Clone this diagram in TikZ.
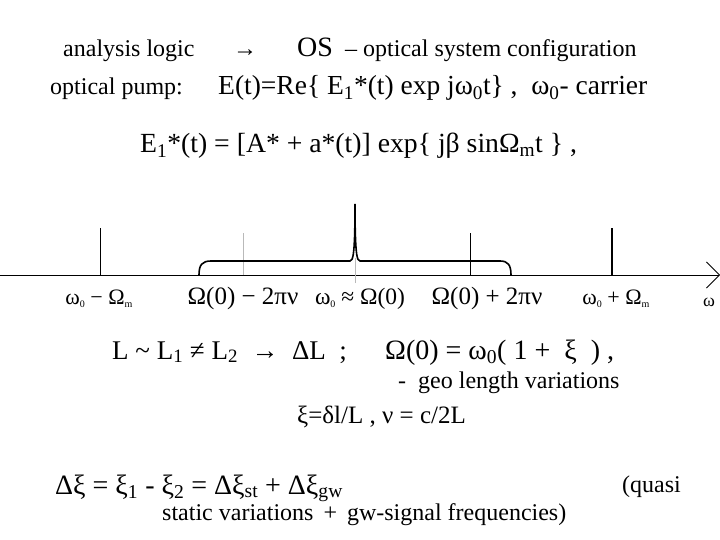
\documentclass[tikz,border=0pt]{standalone}
\usepackage{fontspec}
\setmainfont{Liberation Serif}
\usetikzlibrary{arrows.meta}
\newcommand{\lo}[1]{\textsubscript{#1}}
\newcommand{\smlo}[1]{\raisebox{-0.15em}{\fontsize{10}{12}\selectfont #1}}

\begin{document}
\begin{tikzpicture}
  [
    x=1pt, y=-1pt,
    txt/.style={anchor=base west, inner sep=0pt, font=\fontsize{24}{28}\selectfont},
    big/.style={txt, font=\fontsize{27}{31}\selectfont},
    lbl/.style={anchor=base, inner sep=0pt, font=\fontsize{22}{26}\selectfont},
    tick/.style={line width=0.8pt},
    faint/.style={tick, gray!55},
    brace/.style={line width=1.6pt},
  ]
  \useasboundingbox (0,0) rectangle (720,540);
  % header
  \node [txt] (logic) at (63,57) {analysis logic};
  \node [txt] (goes) at (233,57) {→};
  \node [txt, font=\fontsize{28}{32}\selectfont] (os) at (297,57) {OS};
  \node [txt] (osname) at (345,57) {– optical system configuration};
  \node [txt] (pump) at (50,95) {optical pump:};
  \node [big, font=\fontsize{27.5}{32}\selectfont] (field) at (218,95) {E(t)=Re\{ E\lo{1}*(t) exp jω\lo{0}t\} ,\enspace ω\lo{0}- carrier};
  \node [big, font=\fontsize{27.7}{32}\selectfont] (envelope) at (140,153) {E\lo{1}*(t) = [A* + a*(t)] exp\{ jβ sinΩ\lo{m}t \} ,};
  % spectrum axis
  \coordinate (axl) at (0,275);
  \coordinate (axr) at (720,275);
  \draw [line width=0.8pt, -{Straight Barb[length=13pt, width=26pt, line width=0.8pt]}] (axl) -- (axr);
  \coordinate (sbl) at (100,275);
  \coordinate (cml) at (243,275);
  \coordinate (ctr) at (355,283);
  \coordinate (cmr) at (470,275);
  \coordinate (sbr) at (612,275);
  \draw [tick] (sbl) -- ++(0,-47);
  \draw [faint] (cml) -- ++(0,-42);
  \draw [faint] (ctr) -- ++(0,-25);
  \draw [tick] (cmr) -- ++(0,-42);
  \draw [tick, line width=1.2pt] (sbr) -- ++(0,-47);
  \draw [brace] (199,275) .. controls (199,265) and (202,261) .. (211,261) -- (350,261)
    .. controls (353,261) and (355,255) .. (355,204)
    .. controls (355,255) and (357,261) .. (360,261) -- (500,261)
    .. controls (508,261) and (511,265) .. (511,275);
  \node [lbl] (lsb) at (99,304) {ω\smlo{0} − Ω\smlo{m}};
  \node [lbl, font=\fontsize{25}{29}\selectfont] (lmode) at (243,304) {Ω(0) − 2πν};
  \node [lbl, font=\fontsize{23.5}{28}\selectfont] (lctr) at (360,304) {ω\smlo{0} ≈ Ω(0)};
  \node [lbl, font=\fontsize{25}{29}\selectfont] (rmode) at (487,304) {Ω(0) + 2πν};
  \node [lbl] (rsb) at (616,304) {ω\smlo{0} + Ω\smlo{m}};
  \node [lbl, font=\fontsize{18}{21}\selectfont] (omega) at (709,306) {ω};
  % lengths
  \node [big] (lengths) at (112,359) {L \textasciitilde{} L\lo{1} ≠ L\lo{2} \ → \ ΔL \ ;};
  \node [big, font=\fontsize{28}{32}\selectfont] (shift) at (385,359) {Ω(0) = ω\lo{0}(\ 1 +\ \ ξ\ \ ) ,};
  \node [txt] (geo) at (398,388) {-\ \ geo length variations};
  \node [big, font=\fontsize{25}{29}\selectfont] (xi) at (297,423) {ξ=δl/L , ν = c/2L};
  \node [big, font=\fontsize{28}{32}\selectfont] (dxi) at (55,494) {Δξ = ξ\lo{1} - ξ\lo{2} = Δξ\lo{st} + Δξ\lo{gw}};
  \node [txt] (quasi) at (622,492) {(quasi};
  \node [txt] (kinds) at (162,520) {static variations \,+\, gw-signal frequencies)};
\end{tikzpicture}
\end{document}
